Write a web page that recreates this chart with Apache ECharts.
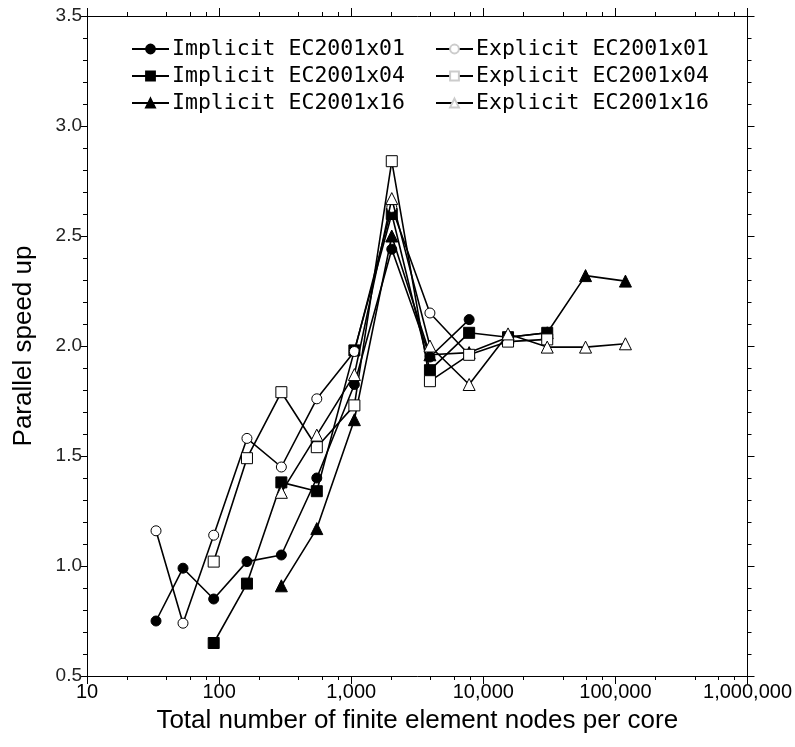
<!DOCTYPE html>
<html>
<head>
<meta charset="utf-8">
<script src="https://cdn.jsdelivr.net/npm/echarts@6/dist/echarts.min.js"></script>
<style>
html,body{margin:0;padding:0;background:#fff;}
#chart{width:795px;height:747px;}
</style>
</head>
<body>
<div id="chart"></div>
<script>
// Nodes per core (x positions shared by all series)
const nodesPerCore = [33.3, 53.3, 91, 162.5, 296, 549, 1057, 2028, 3944, 7812, 15390, 30470, 59430, 119100];

// Parallel speed up values (null = no point)
const implicit01 = [0.75, 0.99, 0.85, 1.02, 1.05, 1.40, 1.825, 2.44, 1.95, 2.12, null, null, null, null];
const implicit04 = [null, null, 0.65, 0.92, 1.38, 1.34, 1.98, 2.60, 1.89, 2.06, 2.04, 2.06, null, null];
const implicit16 = [null, null, null, null, 0.91, 1.17, 1.665, 2.50, 1.96, 1.97, 2.04, 2.06, 2.32, 2.295];
const explicit01 = [1.16, 0.74, 1.14, 1.58, 1.45, 1.76, 1.975, 2.63, 2.15, 1.96, null, null, null, null];
const explicit04 = [null, null, 1.02, 1.49, 1.79, 1.54, 1.73, 2.84, 1.84, 1.96, 2.02, 2.03, null, null];
const explicit16 = [null, null, null, null, 1.335, 1.595, 1.87, 2.67, 2.00, 1.825, 2.055, 1.995, 1.995, 2.01];

const seriesNames = ['Implicit EC2001x01', 'Implicit EC2001x04', 'Implicit EC2001x16',
                     'Explicit EC2001x01', 'Explicit EC2001x04', 'Explicit EC2001x16'];

// Axis tick values
const xMinorTicks = [20, 40, 60, 80, 200, 400, 600, 800, 2000, 4000, 6000, 8000,
                     20000, 40000, 60000, 80000, 200000, 400000, 600000, 800000];

function pairs(vals) {
  const out = [];
  vals.forEach((v, i) => { if (v !== null) out.push([nodesPerCore[i], v]); });
  return out;
}

const valueSets = [implicit01, implicit04, implicit16, explicit01, explicit04, explicit16];
const symbols = ['circle', 'rect', 'triangle', 'circle', 'rect', 'triangle'];
const sizes = [10, 11, 12, 10, 11, 12];

const series = valueSets.map((vals, k) => ({
  name: seriesNames[k],
  type: 'line',
  xAxisIndex: 0,
  yAxisIndex: 0,
  data: pairs(vals),
  symbol: symbols[k],
  symbolSize: sizes[k],
  showAllSymbol: true,
  lineStyle: { color: '#000', width: 1.6 },
  itemStyle: k < 3 ? { color: '#000', borderColor: '#000', borderWidth: 1 }
                   : { color: '#fff', borderColor: '#000', borderWidth: 1 },
  emphasis: { disabled: true },
  animation: false,
  z: 2 + k
}));

const baseFont = 'Liberation Sans, Arial, Helvetica, sans-serif';
const fmtNum = v => Math.round(v).toLocaleString('en-US');

const logAxisCommon = {
  type: 'log', logBase: 10, min: 10, max: 1000000,
  splitLine: { show: false }, minorSplitLine: { show: false },
  axisLine: { onZero: false, lineStyle: { color: '#000', width: 1 } }
};

const chart = echarts.init(document.getElementById('chart'), null, { renderer: 'canvas' });
chart.setOption({
  animation: false,
  backgroundColor: '#fff',
  grid: { left: 87, right: 46, top: 16, bottom: 71, containLabel: false },
  legend: [
    {
      data: seriesNames.slice(0, 3), orient: 'vertical', left: 126, top: 33,
      itemWidth: 37, itemHeight: 11, itemGap: 5, selectedMode: false,
      textStyle: { fontFamily: 'DejaVu Sans Mono', fontSize: 21.5, color: '#000', padding: [0, 0, 0, -2] }
    },
    {
      data: seriesNames.slice(3), orient: 'vertical', left: 430, top: 33,
      itemWidth: 37, itemHeight: 11, itemGap: 5, selectedMode: false,
      itemStyle: { borderColor: '#ccc' },
      textStyle: { fontFamily: 'DejaVu Sans Mono', fontSize: 21.5, color: '#000', padding: [0, 0, 0, -2] }
    }
  ],
  xAxis: [
    Object.assign({}, logAxisCommon, {
      position: 'bottom',
      name: 'Total number of finite element nodes per core',
      nameLocation: 'middle', nameGap: 32,
      nameTextStyle: { fontFamily: baseFont, fontSize: 26, color: '#000' },
      axisTick: { show: true, inside: false, length: 8, lineStyle: { color: '#000' } },
      axisLabel: { show: true, margin: 6, fontFamily: baseFont, fontSize: 20, color: '#000',
                   formatter: v => fmtNum(v), showMinLabel: true, showMaxLabel: true }
    }),
    Object.assign({}, logAxisCommon, {
      position: 'bottom',
      axisLine: { show: false, onZero: false },
      axisTick: { show: true, inside: false, length: 4, customValues: xMinorTicks, lineStyle: { color: '#000' } },
      axisLabel: { show: false }
    }),
    Object.assign({}, logAxisCommon, {
      position: 'top',
      axisTick: { show: true, inside: false, length: 8, lineStyle: { color: '#000' } },
      axisLabel: { show: false }
    }),
    Object.assign({}, logAxisCommon, {
      position: 'top',
      axisLine: { show: false, onZero: false },
      axisTick: { show: true, inside: false, length: 4, customValues: xMinorTicks, lineStyle: { color: '#000' } },
      axisLabel: { show: false }
    })
  ],
  yAxis: [
    {
      type: 'value', min: 0.5, max: 3.5, interval: 0.5, position: 'left',
      name: 'Parallel speed up', nameLocation: 'middle', nameGap: 50,
      nameTextStyle: { fontFamily: baseFont, fontSize: 26, color: '#000' },
      splitLine: { show: false },
      axisLine: { show: true, onZero: false, lineStyle: { color: '#000', width: 1 } },
      axisTick: { show: true, inside: false, length: 7, lineStyle: { color: '#000' } },
      minorTick: { show: true, splitNumber: 5, length: 4, lineStyle: { color: '#000' } },
      axisLabel: { margin: 5, fontFamily: baseFont, fontSize: 19, color: '#222', formatter: v => v.toFixed(1) }
    },
    {
      type: 'value', min: 0.5, max: 3.5, interval: 0.5, position: 'right',
      splitLine: { show: false },
      axisLine: { show: true, onZero: false, lineStyle: { color: '#000', width: 1 } },
      axisTick: { show: true, inside: false, length: 7, lineStyle: { color: '#000' } },
      minorTick: { show: true, splitNumber: 5, length: 4, lineStyle: { color: '#000' } },
      axisLabel: { show: false }
    }
  ],
  series: series
});
</script>
</body>
</html>
